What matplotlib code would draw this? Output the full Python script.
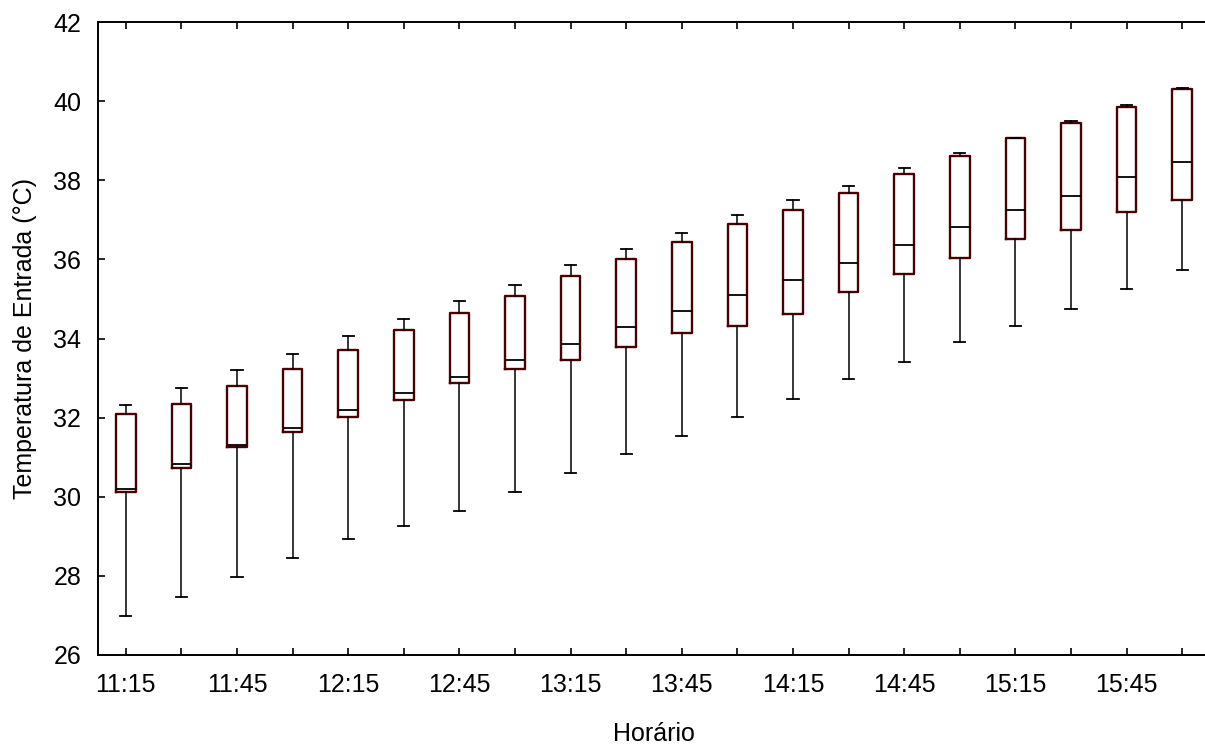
import matplotlib.pyplot as plt

plt.rcParams['font.family'] = ['Liberation Sans', 'DejaVu Sans']

# horários (a cada 15 min)
horarios = ['11:15', '11:30', '11:45', '12:00', '12:15', '12:30', '12:45',
            '13:00', '13:15', '13:30', '13:45', '14:00', '14:15', '14:30',
            '14:45', '15:00', '15:15', '15:30', '15:45', '16:00']

# valores (°C)
minimo = [26.99, 27.47, 27.98, 28.46, 28.94, 29.25, 29.63, 30.12, 30.60, 31.09,
          31.54, 32.01, 32.47, 32.98, 33.41, 33.92, 34.32, 34.74, 35.24, 35.73]
q1 = [30.13, 30.72, 31.27, 31.64, 32.02, 32.45, 32.87, 33.24, 33.46, 33.79,
      34.13, 34.32, 34.63, 35.18, 35.64, 36.04, 36.51, 36.74, 37.21, 37.50]
mediana = [30.20, 30.82, 31.30, 31.73, 32.19, 32.61, 33.02, 33.46, 33.87, 34.29,
           34.70, 35.09, 35.47, 35.92, 36.37, 36.82, 37.25, 37.60, 38.07, 38.47]
q3 = [32.09, 32.34, 32.80, 33.23, 33.71, 34.22, 34.64, 35.07, 35.58, 36.01,
      36.44, 36.89, 37.24, 37.69, 38.16, 38.61, 39.06, 39.44, 39.86, 40.30]
maximo = [32.32, 32.76, 33.20, 33.61, 34.06, 34.49, 34.96, 35.36, 35.86, 36.26,
          36.67, 37.11, 37.51, 37.86, 38.31, 38.69, 39.08, 39.49, 39.91, 40.34]

stats = []
for i in range(len(horarios)):
    stats.append({'whislo': minimo[i], 'q1': q1[i], 'med': mediana[i],
                  'q3': q3[i], 'whishi': maximo[i], 'label': horarios[i]})

fig = plt.figure(figsize=(12.05, 7.47), dpi=100)
ax = fig.add_axes([98/1205, 1-655/747, (1210-98)/1205, (655-22)/747])

pos = list(range(1, len(horarios)+1))
ax.bxp(stats, positions=pos, widths=0.35, capwidths=0.2, showfliers=False,
       boxprops=dict(color='#4a0000', linewidth=1.7),
       medianprops=dict(color='black', linewidth=1.3),
       whiskerprops=dict(color='black', linewidth=1.1),
       capprops=dict(color='black', linewidth=1.3))

ax.set_xlim(0.5, len(horarios)+0.5)
ax.set_ylim(26, 42)
ax.set_yticks(range(26, 43, 2))
ax.set_xticks(pos)
ax.set_xticklabels([h if i % 2 == 0 else '' for i, h in enumerate(horarios)])

ax.spines['right'].set_visible(False)
for s in ['left', 'bottom', 'top']:
    ax.spines[s].set_linewidth(1.4)
ax.tick_params(axis='x', direction='in', top=True, length=5, width=1.2,
               labelsize=18, pad=13)
ax.tick_params(axis='y', direction='in', right=False, length=5, width=1.2,
               labelsize=18, pad=12)

ax.set_xlabel('Horário', fontsize=18, labelpad=18)
ax.set_ylabel('Temperatura de Entrada (°C)', fontsize=18, labelpad=12)

plt.savefig('out.png', dpi=100)
